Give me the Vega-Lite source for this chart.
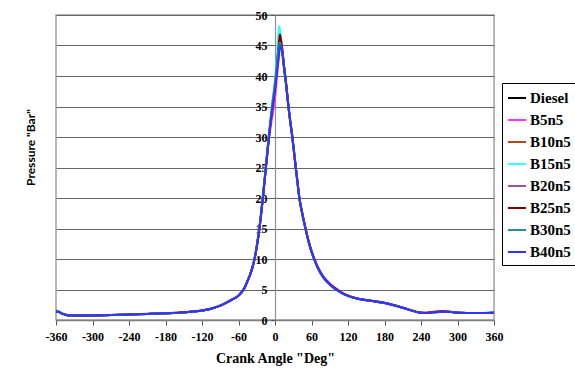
{
  "$schema": "https://vega.github.io/schema/vega-lite/v6.json",
  "width": 438,
  "height": 305,
  "autosize": {"type": "none"},
  "padding": {"left": 56, "top": 15, "right": 81, "bottom": 54},
  "background": "white",
  "config": {"view": {"stroke": "#a0a0a0", "strokeWidth": 1.5}},
  "data": {
    "values": [
      {"a": -360, "Diesel": 1.4, "B5n5": 1.4, "B10n5": 1.4, "B15n5": 1.45, "B20n5": 1.4, "B25n5": 1.4, "B30n5": 1.55, "B40n5": 1.4},
      {"a": -355, "Diesel": 1.3, "B5n5": 1.3, "B10n5": 1.3, "B15n5": 1.3, "B20n5": 1.3, "B25n5": 1.3, "B30n5": 1.4, "B40n5": 1.3},
      {"a": -350, "Diesel": 1.05, "B5n5": 1.05, "B10n5": 1.05, "B15n5": 1.05, "B20n5": 1.05, "B25n5": 1.05, "B30n5": 1.1, "B40n5": 1.05},
      {"a": -345, "Diesel": 0.88, "B5n5": 0.88, "B10n5": 0.88, "B15n5": 0.88, "B20n5": 0.88, "B25n5": 0.88, "B30n5": 0.9, "B40n5": 0.88},
      {"a": -340, "Diesel": 0.78, "B5n5": 0.78, "B10n5": 0.78, "B15n5": 0.78, "B20n5": 0.78, "B25n5": 0.78, "B30n5": 0.78, "B40n5": 0.78},
      {"a": -320, "Diesel": 0.75, "B5n5": 0.75, "B10n5": 0.75, "B15n5": 0.75, "B20n5": 0.75, "B25n5": 0.75, "B30n5": 0.75, "B40n5": 0.75},
      {"a": -300, "Diesel": 0.75, "B5n5": 0.75, "B10n5": 0.75, "B15n5": 0.75, "B20n5": 0.75, "B25n5": 0.75, "B30n5": 0.75, "B40n5": 0.75},
      {"a": -270, "Diesel": 0.8, "B5n5": 0.8, "B10n5": 0.8, "B15n5": 0.8, "B20n5": 0.8, "B25n5": 0.8, "B30n5": 0.8, "B40n5": 0.8},
      {"a": -240, "Diesel": 0.9, "B5n5": 0.9, "B10n5": 0.95, "B15n5": 0.9, "B20n5": 0.9, "B25n5": 0.92, "B30n5": 0.9, "B40n5": 0.9},
      {"a": -210, "Diesel": 1.0, "B5n5": 1.0, "B10n5": 1.02, "B15n5": 1.0, "B20n5": 1.0, "B25n5": 1.0, "B30n5": 1.0, "B40n5": 1.0},
      {"a": -180, "Diesel": 1.1, "B5n5": 1.1, "B10n5": 1.1, "B15n5": 1.1, "B20n5": 1.1, "B25n5": 1.1, "B30n5": 1.1, "B40n5": 1.1},
      {"a": -150, "Diesel": 1.25, "B5n5": 1.25, "B10n5": 1.3, "B15n5": 1.25, "B20n5": 1.25, "B25n5": 1.27, "B30n5": 1.25, "B40n5": 1.25},
      {"a": -120, "Diesel": 1.55, "B5n5": 1.55, "B10n5": 1.55, "B15n5": 1.55, "B20n5": 1.55, "B25n5": 1.55, "B30n5": 1.55, "B40n5": 1.55},
      {"a": -105, "Diesel": 1.85, "B5n5": 1.85, "B10n5": 1.85, "B15n5": 1.85, "B20n5": 1.85, "B25n5": 1.85, "B30n5": 1.85, "B40n5": 1.85},
      {"a": -90, "Diesel": 2.35, "B5n5": 2.35, "B10n5": 2.35, "B15n5": 2.35, "B20n5": 2.35, "B25n5": 2.35, "B30n5": 2.35, "B40n5": 2.35},
      {"a": -80, "Diesel": 2.85, "B5n5": 2.85, "B10n5": 2.85, "B15n5": 2.85, "B20n5": 2.85, "B25n5": 2.85, "B30n5": 2.85, "B40n5": 2.85},
      {"a": -70, "Diesel": 3.4, "B5n5": 3.4, "B10n5": 3.4, "B15n5": 3.4, "B20n5": 3.4, "B25n5": 3.4, "B30n5": 3.4, "B40n5": 3.4},
      {"a": -60, "Diesel": 4.0, "B5n5": 4.0, "B10n5": 4.0, "B15n5": 4.0, "B20n5": 4.0, "B25n5": 4.0, "B30n5": 4.0, "B40n5": 4.0},
      {"a": -50, "Diesel": 5.3, "B5n5": 5.3, "B10n5": 5.3, "B15n5": 5.3, "B20n5": 5.3, "B25n5": 5.3, "B30n5": 5.3, "B40n5": 5.3},
      {"a": -45, "Diesel": 6.4, "B5n5": 6.4, "B10n5": 6.4, "B15n5": 6.4, "B20n5": 6.4, "B25n5": 6.4, "B30n5": 6.4, "B40n5": 6.4},
      {"a": -40, "Diesel": 7.7, "B5n5": 7.7, "B10n5": 7.7, "B15n5": 7.7, "B20n5": 7.7, "B25n5": 7.7, "B30n5": 7.7, "B40n5": 7.7},
      {"a": -35, "Diesel": 9.4, "B5n5": 9.4, "B10n5": 9.4, "B15n5": 9.5, "B20n5": 9.4, "B25n5": 9.4, "B30n5": 9.5, "B40n5": 9.4},
      {"a": -30, "Diesel": 12.0, "B5n5": 11.9, "B10n5": 12.0, "B15n5": 12.2, "B20n5": 12.0, "B25n5": 12.0, "B30n5": 12.2, "B40n5": 12.0},
      {"a": -25, "Diesel": 15.5, "B5n5": 15.4, "B10n5": 15.5, "B15n5": 15.8, "B20n5": 15.5, "B25n5": 15.5, "B30n5": 15.7, "B40n5": 15.5},
      {"a": -20, "Diesel": 20.0, "B5n5": 19.8, "B10n5": 20.0, "B15n5": 20.3, "B20n5": 20.0, "B25n5": 20.0, "B30n5": 20.3, "B40n5": 20.0},
      {"a": -15, "Diesel": 25.0, "B5n5": 24.8, "B10n5": 25.0, "B15n5": 25.4, "B20n5": 25.0, "B25n5": 25.0, "B30n5": 25.3, "B40n5": 25.0},
      {"a": -10, "Diesel": 30.0, "B5n5": 29.6, "B10n5": 30.1, "B15n5": 30.5, "B20n5": 29.9, "B25n5": 30.0, "B30n5": 30.4, "B40n5": 30.0},
      {"a": -5, "Diesel": 34.3, "B5n5": 33.0, "B10n5": 34.5, "B15n5": 35.3, "B20n5": 34.0, "B25n5": 34.3, "B30n5": 35.0, "B40n5": 34.3},
      {"a": 0, "Diesel": 38.0, "B5n5": 36.3, "B10n5": 38.3, "B15n5": 39.3, "B20n5": 37.8, "B25n5": 38.0, "B30n5": 39.0, "B40n5": 37.8},
      {"a": 3, "Diesel": 41.0, "B5n5": 39.5, "B10n5": 41.5, "B15n5": 43.0, "B20n5": 41.0, "B25n5": 41.3, "B30n5": 42.0, "B40n5": 40.3},
      {"a": 6, "Diesel": 44.0, "B5n5": 43.0, "B10n5": 44.8, "B15n5": 47.5, "B20n5": 44.5, "B25n5": 45.0, "B30n5": 44.6, "B40n5": 43.0},
      {"a": 7, "Diesel": 45.0, "B5n5": 44.3, "B10n5": 45.9, "B15n5": 48.2, "B20n5": 45.2, "B25n5": 46.0, "B30n5": 45.1, "B40n5": 44.0},
      {"a": 8, "Diesel": 45.8, "B5n5": 45.5, "B10n5": 46.7, "B15n5": 47.8, "B20n5": 45.8, "B25n5": 46.8, "B30n5": 45.5, "B40n5": 44.8},
      {"a": 9, "Diesel": 45.6, "B5n5": 46.0, "B10n5": 46.3, "B15n5": 47.0, "B20n5": 46.0, "B25n5": 46.4, "B30n5": 45.3, "B40n5": 45.0},
      {"a": 12, "Diesel": 44.0, "B5n5": 44.3, "B10n5": 44.2, "B15n5": 44.5, "B20n5": 44.2, "B25n5": 44.3, "B30n5": 43.8, "B40n5": 43.7},
      {"a": 15, "Diesel": 41.3, "B5n5": 41.5, "B10n5": 41.5, "B15n5": 41.5, "B20n5": 41.4, "B25n5": 41.5, "B30n5": 41.2, "B40n5": 41.2},
      {"a": 18, "Diesel": 38.8, "B5n5": 39.0, "B10n5": 39.0, "B15n5": 38.9, "B20n5": 38.9, "B25n5": 39.0, "B30n5": 38.8, "B40n5": 38.8},
      {"a": 22, "Diesel": 35.0, "B5n5": 35.2, "B10n5": 35.2, "B15n5": 35.0, "B20n5": 35.1, "B25n5": 35.2, "B30n5": 35.0, "B40n5": 35.0},
      {"a": 25, "Diesel": 32.5, "B5n5": 32.7, "B10n5": 32.7, "B15n5": 32.5, "B20n5": 32.6, "B25n5": 32.7, "B30n5": 32.5, "B40n5": 32.5},
      {"a": 28, "Diesel": 30.3, "B5n5": 30.5, "B10n5": 30.5, "B15n5": 30.3, "B20n5": 30.4, "B25n5": 30.5, "B30n5": 30.3, "B40n5": 30.3},
      {"a": 31, "Diesel": 27.7, "B5n5": 27.9, "B10n5": 27.9, "B15n5": 27.7, "B20n5": 27.8, "B25n5": 27.9, "B30n5": 27.7, "B40n5": 27.7},
      {"a": 34, "Diesel": 25.0, "B5n5": 25.2, "B10n5": 25.2, "B15n5": 25.0, "B20n5": 25.1, "B25n5": 25.2, "B30n5": 25.0, "B40n5": 25.0},
      {"a": 37, "Diesel": 22.5, "B5n5": 22.7, "B10n5": 22.6, "B15n5": 22.5, "B20n5": 22.6, "B25n5": 22.6, "B30n5": 22.5, "B40n5": 22.5},
      {"a": 40, "Diesel": 20.0, "B5n5": 20.2, "B10n5": 20.1, "B15n5": 20.0, "B20n5": 20.1, "B25n5": 20.1, "B30n5": 20.0, "B40n5": 20.0},
      {"a": 45, "Diesel": 17.3, "B5n5": 17.5, "B10n5": 17.4, "B15n5": 17.3, "B20n5": 17.4, "B25n5": 17.4, "B30n5": 17.3, "B40n5": 17.3},
      {"a": 50, "Diesel": 15.0, "B5n5": 15.2, "B10n5": 15.1, "B15n5": 15.0, "B20n5": 15.1, "B25n5": 15.1, "B30n5": 15.0, "B40n5": 15.0},
      {"a": 55, "Diesel": 12.9, "B5n5": 13.1, "B10n5": 13.0, "B15n5": 12.9, "B20n5": 13.0, "B25n5": 13.0, "B30n5": 12.9, "B40n5": 12.9},
      {"a": 60, "Diesel": 11.2, "B5n5": 11.4, "B10n5": 11.3, "B15n5": 11.2, "B20n5": 11.3, "B25n5": 11.3, "B30n5": 11.2, "B40n5": 11.2},
      {"a": 65, "Diesel": 9.8, "B5n5": 10.0, "B10n5": 9.9, "B15n5": 9.8, "B20n5": 9.9, "B25n5": 9.9, "B30n5": 9.8, "B40n5": 9.8},
      {"a": 70, "Diesel": 8.6, "B5n5": 8.8, "B10n5": 8.7, "B15n5": 8.6, "B20n5": 8.7, "B25n5": 8.7, "B30n5": 8.6, "B40n5": 8.6},
      {"a": 80, "Diesel": 6.9, "B5n5": 7.1, "B10n5": 7.0, "B15n5": 6.9, "B20n5": 7.0, "B25n5": 7.0, "B30n5": 6.9, "B40n5": 6.9},
      {"a": 90, "Diesel": 5.8, "B5n5": 6.0, "B10n5": 5.9, "B15n5": 5.8, "B20n5": 5.9, "B25n5": 5.9, "B30n5": 5.8, "B40n5": 5.8},
      {"a": 100, "Diesel": 5.0, "B5n5": 5.2, "B10n5": 5.1, "B15n5": 5.0, "B20n5": 5.1, "B25n5": 5.1, "B30n5": 5.0, "B40n5": 5.0},
      {"a": 110, "Diesel": 4.4, "B5n5": 4.55, "B10n5": 4.45, "B15n5": 4.4, "B20n5": 4.45, "B25n5": 4.45, "B30n5": 4.4, "B40n5": 4.4},
      {"a": 120, "Diesel": 3.95, "B5n5": 4.0, "B10n5": 3.98, "B15n5": 3.95, "B20n5": 3.95, "B25n5": 3.98, "B30n5": 3.95, "B40n5": 3.95},
      {"a": 140, "Diesel": 3.4, "B5n5": 3.4, "B10n5": 3.45, "B15n5": 3.4, "B20n5": 3.4, "B25n5": 3.42, "B30n5": 3.4, "B40n5": 3.4},
      {"a": 160, "Diesel": 3.1, "B5n5": 3.1, "B10n5": 3.15, "B15n5": 3.1, "B20n5": 3.1, "B25n5": 3.12, "B30n5": 3.1, "B40n5": 3.1},
      {"a": 180, "Diesel": 2.8, "B5n5": 2.8, "B10n5": 2.85, "B15n5": 2.8, "B20n5": 2.8, "B25n5": 2.82, "B30n5": 2.8, "B40n5": 2.8},
      {"a": 200, "Diesel": 2.3, "B5n5": 2.3, "B10n5": 2.35, "B15n5": 2.3, "B20n5": 2.3, "B25n5": 2.32, "B30n5": 2.3, "B40n5": 2.3},
      {"a": 220, "Diesel": 1.7, "B5n5": 1.7, "B10n5": 1.7, "B15n5": 1.7, "B20n5": 1.7, "B25n5": 1.7, "B30n5": 1.7, "B40n5": 1.7},
      {"a": 240, "Diesel": 1.2, "B5n5": 1.2, "B10n5": 1.2, "B15n5": 1.2, "B20n5": 1.2, "B25n5": 1.2, "B30n5": 1.2, "B40n5": 1.2},
      {"a": 250, "Diesel": 1.15, "B5n5": 1.15, "B10n5": 1.2, "B15n5": 1.15, "B20n5": 1.15, "B25n5": 1.18, "B30n5": 1.15, "B40n5": 1.15},
      {"a": 260, "Diesel": 1.25, "B5n5": 1.25, "B10n5": 1.35, "B15n5": 1.25, "B20n5": 1.25, "B25n5": 1.32, "B30n5": 1.25, "B40n5": 1.25},
      {"a": 275, "Diesel": 1.35, "B5n5": 1.35, "B10n5": 1.45, "B15n5": 1.35, "B20n5": 1.35, "B25n5": 1.42, "B30n5": 1.35, "B40n5": 1.35},
      {"a": 290, "Diesel": 1.3, "B5n5": 1.3, "B10n5": 1.35, "B15n5": 1.3, "B20n5": 1.3, "B25n5": 1.33, "B30n5": 1.3, "B40n5": 1.3},
      {"a": 300, "Diesel": 1.2, "B5n5": 1.2, "B10n5": 1.2, "B15n5": 1.2, "B20n5": 1.2, "B25n5": 1.2, "B30n5": 1.2, "B40n5": 1.2},
      {"a": 330, "Diesel": 1.15, "B5n5": 1.15, "B10n5": 1.15, "B15n5": 1.15, "B20n5": 1.15, "B25n5": 1.15, "B30n5": 1.15, "B40n5": 1.15},
      {"a": 360, "Diesel": 1.2, "B5n5": 1.2, "B10n5": 1.2, "B15n5": 1.25, "B20n5": 1.2, "B25n5": 1.2, "B30n5": 1.25, "B40n5": 1.2}
    ]
  },
  "transform": [
    {"fold": ["Diesel", "B5n5", "B10n5", "B15n5", "B20n5", "B25n5", "B30n5", "B40n5"], "as": ["series", "pressure"]}
  ],
  "mark": {"type": "line", "strokeWidth": 2, "interpolate": "monotone"},
  "encoding": {
    "x": {
      "field": "a",
      "type": "quantitative",
      "scale": {"domain": [-360, 360], "nice": false, "zero": false},
      "axis": {
        "values": [-360, -300, -240, -180, -120, -60, 0, 60, 120, 180, 240, 300, 360],
        "labelExpr": "'' + datum.value",
        "title": "Crank Angle \"Deg\"",
        "grid": false,
        "labelFont": "Liberation Serif, Times New Roman, DejaVu Serif, serif",
        "labelFontWeight": "bold",
        "labelFontSize": 12,
        "labelColor": "black",
        "labelPadding": 6,
        "labelFlush": false,
        "labelOverlap": false,
        "tickColor": "#555555",
        "tickSize": 5,
        "domainColor": "#808080",
        "domainWidth": 1.5,
        "titleFont": "Liberation Serif, Times New Roman, DejaVu Serif, serif",
        "titleFontSize": 14,
        "titleFontWeight": "bold",
        "titleColor": "black",
        "titlePadding": 9
      }
    },
    "y": {
      "field": "pressure",
      "type": "quantitative",
      "scale": {"domain": [0, 50], "nice": false},
      "axis": {
        "values": [0, 5, 10, 15, 20, 25, 30, 35, 40, 45, 50],
        "labelExpr": "'' + datum.value",
        "offset": -219,
        "grid": true,
        "gridColor": "#666666",
        "gridWidth": 1,
        "domainColor": "#909090",
        "domainWidth": 1.2,
        "tickColor": "#555555",
        "tickSize": 4,
        "labelFont": "Liberation Serif, Times New Roman, DejaVu Serif, serif",
        "labelFontWeight": "bold",
        "labelFontSize": 12,
        "labelColor": "black",
        "labelPadding": 4,
        "labelFlush": false,
        "labelOverlap": false,
        "title": "Pressure \"Bar\"",
        "titleFont": "Lato",
        "titleFontWeight": "bold",
        "titleFontSize": 12,
        "titleColor": "black",
        "titleAngle": -90,
        "titleAlign": "center",
        "titleBaseline": "middle",
        "titleX": -245,
        "titleY": 132
      }
    },
    "color": {
      "field": "series",
      "type": "nominal",
      "scale": {
        "domain": ["Diesel", "B5n5", "B10n5", "B15n5", "B20n5", "B25n5", "B30n5", "B40n5"],
        "range": ["#000000", "#ff33ff", "#b5461e", "#33ffff", "#a050a0", "#800000", "#2a8c8c", "#3333ff"]
      },
      "legend": {
        "orient": "none",
        "legendX": 446,
        "legendY": 68,
        "title": null,
        "strokeColor": "#000000",
        "fillColor": "white",
        "padding": 5,
        "symbolType": "stroke",
        "symbolSize": 324,
        "symbolStrokeWidth": 2,
        "labelFont": "Liberation Serif, Times New Roman, DejaVu Serif, serif",
        "labelFontSize": 15,
        "labelFontWeight": "bold",
        "labelColor": "black",
        "labelOffset": 3,
        "rowPadding": 4
      }
    }
  }
}
